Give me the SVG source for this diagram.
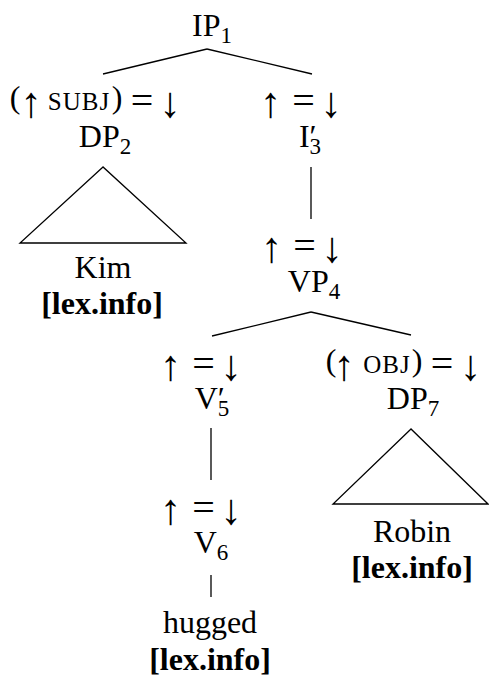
<svg xmlns="http://www.w3.org/2000/svg" width="489" height="678" viewBox="0 0 489 678">
<style>
text{font-family:"Liberation Serif","Times New Roman",serif;font-size:32px;fill:#000;text-anchor:middle}
.sub{font-size:23px}
.sc{font-size:25px;letter-spacing:1px}
.ar{font-size:43px}
.eq{font-size:40px}
.b{font-weight:bold}
line,polygon{stroke:#000;stroke-width:1.3;fill:none}
</style>
<rect width="489" height="678" fill="#fff"/>
<g id="connectors">
<line x1="207" y1="49" x2="103" y2="74"/>
<line x1="207" y1="49" x2="312" y2="74"/>
<line x1="311" y1="167" x2="311" y2="219"/>
<line x1="311" y1="312" x2="212" y2="336"/>
<line x1="311" y1="312" x2="411" y2="335"/>
<line x1="211" y1="428" x2="211" y2="480"/>
<line x1="211" y1="575" x2="211" y2="597"/>
</g>
<g id="IP1"><text x="212" y="36">IP<tspan class="sub" dy="7">1</tspan></text></g>
<g id="DP2">
<text y="108"><tspan x="15">(</tspan><tspan class="ar" x="31" y="117">↑</tspan><tspan class="sc" x="79" y="110">SUBJ</tspan><tspan x="117" y="108">)</tspan><tspan class="eq" x="142" y="114">=</tspan><tspan class="ar" x="170" y="117">↓</tspan></text>
<text x="105" y="147">DP<tspan class="sub" dy="7">2</tspan></text>
<polygon points="103,167 20,243 186,243"/>
<text x="103" y="278">Kim</text>
<text x="102" y="314" class="b">[lex.info]</text>
</g>
<g id="I3">
<text y="108"><tspan class="ar" x="270.5" y="117">↑</tspan><tspan class="eq" x="303.5" y="114">=</tspan><tspan class="ar" x="331" y="117">↓</tspan></text>
<text x="310" y="147">I<tspan>′</tspan><tspan class="sub" dx="-7" dy="7">3</tspan></text>
</g>
<g id="VP4">
<text y="253"><tspan class="ar" x="271.5" y="262">↑</tspan><tspan class="eq" x="304.5" y="259">=</tspan><tspan class="ar" x="332" y="262">↓</tspan></text>
<text x="314" y="292">VP<tspan class="sub" dy="7">4</tspan></text>
</g>
<g id="V5">
<text y="371"><tspan class="ar" x="170.5" y="380">↑</tspan><tspan class="eq" x="203.5" y="377">=</tspan><tspan class="ar" x="231" y="380">↓</tspan></text>
<text x="212" y="409">V<tspan>′</tspan><tspan class="sub" dx="-7" dy="7">5</tspan></text>
</g>
<g id="DP7">
<text y="371"><tspan x="331">(</tspan><tspan class="ar" x="344" y="380">↑</tspan><tspan class="sc" x="387" y="373">OBJ</tspan><tspan x="417" y="371">)</tspan><tspan class="eq" x="442" y="377">=</tspan><tspan class="ar" x="470.5" y="380">↓</tspan></text>
<text x="413" y="409">DP<tspan class="sub" dy="7">7</tspan></text>
<polygon points="411,429 333,504 488,504"/>
<text x="412" y="542">Robin</text>
<text x="412" y="578" class="b">[lex.info]</text>
</g>
<g id="V6">
<text y="515"><tspan class="ar" x="170.5" y="524">↑</tspan><tspan class="eq" x="203.5" y="521">=</tspan><tspan class="ar" x="231" y="524">↓</tspan></text>
<text x="211" y="553">V<tspan class="sub" dy="7">6</tspan></text>
</g>
<g id="hugged">
<text x="210" y="633">hugged</text>
<text x="210" y="670" class="b">[lex.info]</text>
</g>
</svg>
